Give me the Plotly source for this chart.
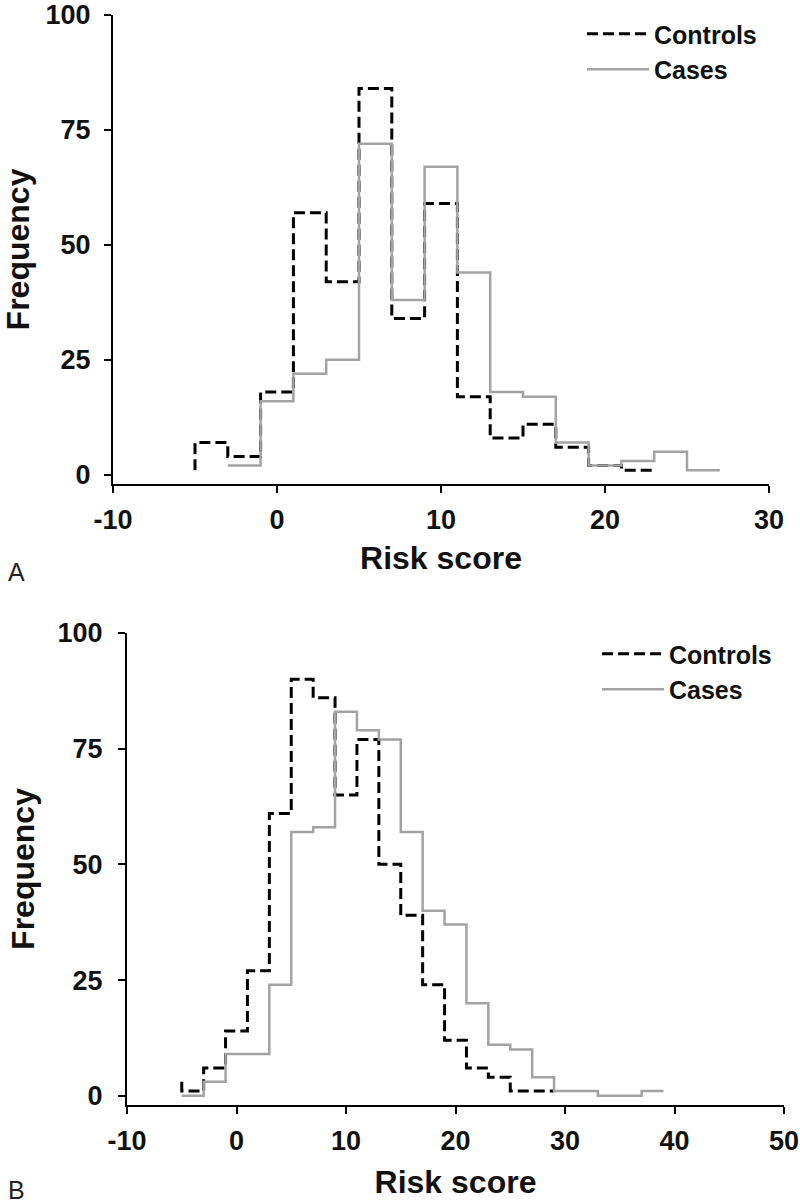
import plotly.graph_objects as go

# ---- data (bin width 2) ----
A_edges = [-5, -3, -1, 1, 3, 5, 7, 9, 11, 13, 15, 17, 19, 21, 23, 25, 27]
A_controls_start = 1
A_controls = [7, 4, 18, 57, 42, 84, 34, 59, 17, 8, 11, 6, 2, 1]          # bins from -5 to 23
A_cases_start = 2
A_cases = [2, 16, 22, 25, 72, 38, 67, 44, 18, 17, 7, 2, 3, 5, 1]        # bins from -3 to 27

B_edges = list(range(-5, 40, 2))
B_controls_start = 3
B_controls = [1, 6, 14, 27, 61, 90, 86, 65, 77, 50, 39, 24, 12, 6, 4, 1, 1]   # bins from -5 to 29
B_cases_start = 0
B_cases = [0, 3, 9, 9, 24, 57, 58, 83, 79, 77, 57, 40, 37, 20, 11, 10, 4, 1, 1, 0, 0, 1]  # bins -5 to 39

x_ticks_A = [-10, 0, 10, 20, 30]
x_ticks_B = [-10, 0, 10, 20, 30, 40, 50]
y_ticks = [0, 25, 50, 75, 100]

W, H = 800, 1203
FONT = "Liberation Sans, Arial, sans-serif"


def step_xy(edges, first_edge, start, values):
    i0 = edges.index(first_edge)
    xs = edges[i0:i0 + len(values) + 1]
    ys = [start] + list(values)
    return xs, ys


def px_x(p):
    return p / W


def px_y(p):
    return 1 - p / H


def labels(vals):
    return [str(v) for v in vals]  # plain hyphen-minus as in the reference


fig = go.Figure()

CTRL = dict(color="black", width=3, dash="11px,5px", shape="vh")
CASE = dict(color="#a3a3a3", width=2.5, shape="vh")

xs, ys = step_xy(A_edges, -5, A_controls_start, A_controls)
fig.add_trace(go.Scatter(x=xs, y=ys, mode="lines", line=CTRL, name="Controls",
                         xaxis="x", yaxis="y", legend="legend"))
xs, ys = step_xy(A_edges, -3, A_cases_start, A_cases)
fig.add_trace(go.Scatter(x=xs, y=ys, mode="lines", line=CASE, name="Cases",
                         xaxis="x", yaxis="y", legend="legend"))

xs, ys = step_xy(B_edges, -5, B_controls_start, B_controls)
fig.add_trace(go.Scatter(x=xs, y=ys, mode="lines", line=CTRL, name="Controls",
                         xaxis="x2", yaxis="y2", legend="legend2"))
xs, ys = step_xy(B_edges, -5, B_cases_start, B_cases)
fig.add_trace(go.Scatter(x=xs, y=ys, mode="lines", line=CASE, name="Cases",
                         xaxis="x2", yaxis="y2", legend="legend2"))

tickfont = dict(family=FONT, size=27, color="#111", weight="bold")
titlefont = dict(family=FONT, size=32, color="#111", weight="bold")

axis_common = dict(showline=True, linecolor="black", linewidth=2, ticks="outside",
                   ticklen=7, tickwidth=1.5, tickcolor="black", showgrid=False,
                   zeroline=False, tickfont=tickfont, fixedrange=True, automargin=False,
                   ticklabeloverflow="allow")

legend_common = dict(font=dict(family=FONT, size=25, color="#111", weight="bold"),
                     bgcolor="rgba(0,0,0,0)", borderwidth=0, itemwidth=62,
                     xanchor="left", yanchor="top", tracegroupgap=0)

fig.update_layout(
    width=W, height=H,
    margin=dict(l=0, r=0, t=0, b=0, autoexpand=False),
    paper_bgcolor="white", plot_bgcolor="white",
    xaxis=dict(domain=[px_x(113), px_x(769)], range=[-10, 30], tickvals=x_ticks_A,
               ticktext=labels(x_ticks_A), anchor="y", ticklabelstandoff=4,
               title=dict(text="Risk score", font=titlefont, standoff=12),
               **axis_common),
    yaxis=dict(domain=[px_y(484), px_y(15)], range=[-2, 100], tickvals=y_ticks,
               ticktext=labels(y_ticks), anchor="x", ticklabelstandoff=8,
               title=dict(text="Frequency", font=titlefont, standoff=19),
               **axis_common),
    xaxis2=dict(domain=[px_x(127), px_x(784)], range=[-10, 50], tickvals=x_ticks_B,
                ticktext=labels(x_ticks_B), anchor="y2", ticklabelstandoff=4,
                title=dict(text="Risk score", font=titlefont, standoff=15),
                **axis_common),
    yaxis2=dict(domain=[px_y(1105), px_y(633)], range=[-2, 100], tickvals=y_ticks,
                ticktext=labels(y_ticks), anchor="x2", ticklabelstandoff=10,
                title=dict(text="Frequency", font=titlefont, standoff=13),
                **axis_common),
    legend=dict(x=px_x(582), y=px_y(11), **legend_common),
    legend2=dict(x=px_x(597), y=px_y(631), **legend_common),
    annotations=[
        dict(text="A", x=px_x(6), y=px_y(572), xref="paper", yref="paper",
             xanchor="left", yanchor="middle", showarrow=False,
             font=dict(family=FONT, size=25, color="#222")),
        dict(text="B", x=px_x(6), y=px_y(1190), xref="paper", yref="paper",
             xanchor="left", yanchor="middle", showarrow=False,
             font=dict(family=FONT, size=25, color="#222")),
    ],
)

# remove the default 8px page margin so the figure fills the window exactly
fig.write_html("out.html", config={"displayModeBar": False},
               post_script="document.body.style.margin='0px';")
